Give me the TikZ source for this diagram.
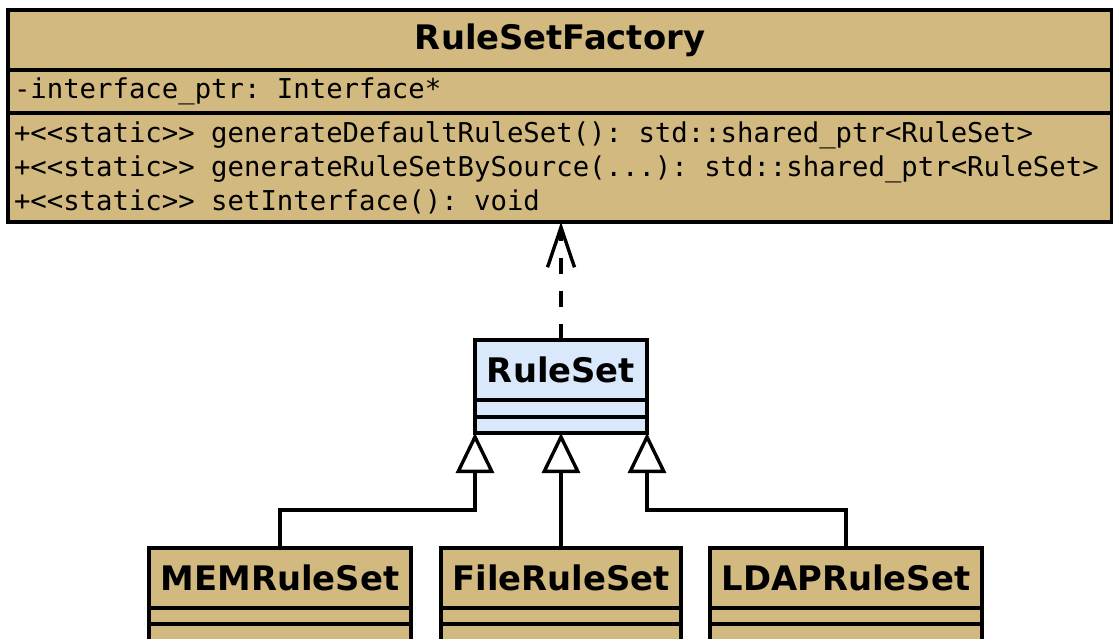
\documentclass[tikz,border=0pt]{standalone}
\usepackage{fontspec}
\setsansfont{DejaVu Sans}
\setmonofont{DejaVu Sans Mono}[WordSpace={1,0,0}]
\usetikzlibrary{arrows.meta}
\definecolor{classtan}{HTML}{D2B97F}
\definecolor{classblue}{HTML}{DAE8FC}
\newcommand{\stereo}[1]{\char"3C\char"3C#1\char"3E\char"3E}
% full-width spaces for monospaced member lists
\newcommand{\monospaces}{\spaceskip=0.602em\xspaceskip=0.602em\relax}
\begin{document}
\begin{tikzpicture}[x=1pt,y=-1pt,
  part/.style={draw, line width=3.6pt, inner sep=0pt, outer sep=0pt, anchor=north west},
  tanpart/.style={part, fill=classtan},
  bluepart/.style={part, fill=classblue},
  classname/.style={font=\sffamily\bfseries\fontsize{33.8}{40}\selectfont},
  members/.style={font=\ttfamily\fontsize{27.3}{34}\selectfont, align=left, inner xsep=6pt},
  inherits/.style={line width=3.4pt, -{Triangle[length=40pt, width=38pt, fill=white]}},
  realizes/.style={line width=3.4pt, dash pattern=on 16pt off 17pt,
    -{Straight Barb[length=40pt, width=27pt, line width=3.4pt]}}
]
\useasboundingbox (0,0) rectangle (1113,639);
\clip (0,0) rectangle (1113,639);

% RuleSetFactory
\node[tanpart, classname, minimum width=1104pt, minimum height=60pt] (fac) at (8,10) {RuleSetFactory};
\node[tanpart, members, text width=1092pt, minimum height=43pt] (faca) at (8,70)
  {\monospaces -interface\_ptr: Interface*};
\node[tanpart, members, text width=1092pt, minimum height=109pt] (facm) at (8,113)
  {\monospaces +\stereo{static}\ generateDefaultRuleSet(): std::shared\_ptr<RuleSet>\\
   +\stereo{static}\ generateRuleSetBySource(...): std::shared\_ptr<RuleSet>\\
   +\stereo{static}\ setInterface(): void};

% RuleSet
\node[bluepart, classname, minimum width=172pt, minimum height=60pt] (rs) at (475,340) {RuleSet};
\node[bluepart, minimum width=172pt, minimum height=17pt] (rsa) at (475,400) {};
\node[bluepart, minimum width=172pt, minimum height=16pt] (rsm) at (475,417) {};

% MEMRuleSet
\node[tanpart, classname, minimum width=262pt, minimum height=60pt] (mem) at (149,548) {MEMRuleSet};
\node[tanpart, minimum width=262pt, minimum height=16pt] (mema) at (149,608) {};
\node[tanpart, minimum width=262pt, minimum height=60pt] (memm) at (149,624) {};

% FileRuleSet
\node[tanpart, classname, minimum width=240pt, minimum height=60pt] (file) at (441,548) {FileRuleSet};
\node[tanpart, minimum width=240pt, minimum height=16pt] (filea) at (441,608) {};
\node[tanpart, minimum width=240pt, minimum height=60pt] (filem) at (441,624) {};

% LDAPRuleSet
\node[tanpart, classname, minimum width=272pt, minimum height=60pt] (ldap) at (710,548) {LDAPRuleSet};
\node[tanpart, minimum width=272pt, minimum height=16pt] (ldapa) at (710,608) {};
\node[tanpart, minimum width=272pt, minimum height=60pt] (ldapm) at (710,624) {};

% relations
\draw[realizes] (rs.north) -- (rs.north |- facm.south);
\draw[inherits] (mem.north) -- (mem.north |- 0,510) -| (rsm.south west);
\draw[inherits] (file.north) -- (rsm.south);
\draw[inherits] (ldap.north) -- (ldap.north |- 0,510) -| (rsm.south east);
\end{tikzpicture}
\end{document}
